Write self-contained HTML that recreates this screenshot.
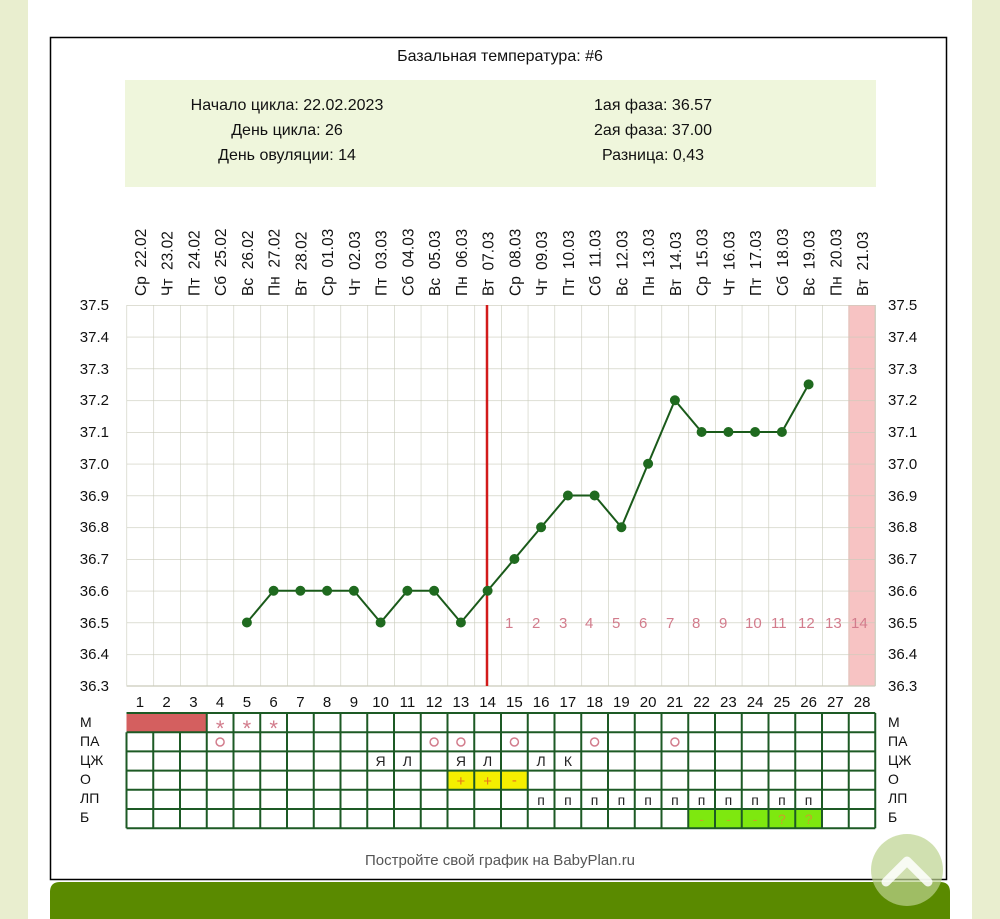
<!DOCTYPE html>
<html><head><meta charset="utf-8"><style>
html,body{margin:0;padding:0;background:#e9eecf;}
svg{display:block;font-family:"Liberation Sans",Arial,sans-serif;}
</style></head><body>
<svg width="1000" height="919" viewBox="0 0 1000 919" xmlns="http://www.w3.org/2000/svg">
<defs>
<pattern id="g" x="126.5" y="305" width="26.75" height="31.75" patternUnits="userSpaceOnUse">
<path d="M0 0 V31.75 M0 0 H26.75" stroke="#c9cbbb" stroke-width="1.2" fill="none"/>
</pattern>
</defs>
<rect x="0" y="0" width="1000" height="919" fill="#e9eecf"/>
<rect x="28" y="0" width="944" height="919" fill="#fff"/>
<rect x="50.5" y="37.5" width="896" height="842" fill="#fff" stroke="#000" stroke-width="1.5"/>
<text x="500" y="61" font-size="16" text-anchor="middle" fill="#111">Базальная температура: #6</text>
<rect x="125" y="80" width="751" height="107" fill="#eff6dc"/>
<g font-size="16" fill="#111" text-anchor="middle">
<text x="287" y="110">Начало цикла: 22.02.2023</text>
<text x="287" y="135">День цикла: 26</text>
<text x="287" y="160">День овуляции: 14</text>
<text x="653" y="110">1ая фаза: 36.57</text>
<text x="653" y="135">2ая фаза: 37.00</text>
<text x="653" y="160">Разница: 0,43</text>
</g>
<rect x="848.25" y="305" width="26.75" height="381" fill="#f7c3c3"/>
<rect x="126.5" y="305" width="749" height="381" fill="url(#g)"/>
<path d="M875.25 305 V686 M126.5 686 H875.25" stroke="#c9cbbb" stroke-width="1.2"/>
<g font-size="15.5" fill="#111">
<text transform="translate(146,296) rotate(-90)" xml:space="preserve">Ср  22.02</text>
<text transform="translate(172.7,296) rotate(-90)" xml:space="preserve">Чт  23.02</text>
<text transform="translate(199.5,296) rotate(-90)" xml:space="preserve">Пт  24.02</text>
<text transform="translate(226.2,296) rotate(-90)" xml:space="preserve">Сб  25.02</text>
<text transform="translate(253,296) rotate(-90)" xml:space="preserve">Вс  26.02</text>
<text transform="translate(279.7,296) rotate(-90)" xml:space="preserve">Пн  27.02</text>
<text transform="translate(306.5,296) rotate(-90)" xml:space="preserve">Вт  28.02</text>
<text transform="translate(333.2,296) rotate(-90)" xml:space="preserve">Ср  01.03</text>
<text transform="translate(360,296) rotate(-90)" xml:space="preserve">Чт  02.03</text>
<text transform="translate(386.7,296) rotate(-90)" xml:space="preserve">Пт  03.03</text>
<text transform="translate(413.5,296) rotate(-90)" xml:space="preserve">Сб  04.03</text>
<text transform="translate(440.2,296) rotate(-90)" xml:space="preserve">Вс  05.03</text>
<text transform="translate(467,296) rotate(-90)" xml:space="preserve">Пн  06.03</text>
<text transform="translate(493.7,296) rotate(-90)" xml:space="preserve">Вт  07.03</text>
<text transform="translate(520.5,296) rotate(-90)" xml:space="preserve">Ср  08.03</text>
<text transform="translate(547.2,296) rotate(-90)" xml:space="preserve">Чт  09.03</text>
<text transform="translate(574,296) rotate(-90)" xml:space="preserve">Пт  10.03</text>
<text transform="translate(600.7,296) rotate(-90)" xml:space="preserve">Сб  11.03</text>
<text transform="translate(627.5,296) rotate(-90)" xml:space="preserve">Вс  12.03</text>
<text transform="translate(654.2,296) rotate(-90)" xml:space="preserve">Пн  13.03</text>
<text transform="translate(681,296) rotate(-90)" xml:space="preserve">Вт  14.03</text>
<text transform="translate(707.7,296) rotate(-90)" xml:space="preserve">Ср  15.03</text>
<text transform="translate(734.5,296) rotate(-90)" xml:space="preserve">Чт  16.03</text>
<text transform="translate(761.2,296) rotate(-90)" xml:space="preserve">Пт  17.03</text>
<text transform="translate(788,296) rotate(-90)" xml:space="preserve">Сб  18.03</text>
<text transform="translate(814.7,296) rotate(-90)" xml:space="preserve">Вс  19.03</text>
<text transform="translate(841.5,296) rotate(-90)" xml:space="preserve">Пн  20.03</text>
<text transform="translate(868.2,296) rotate(-90)" xml:space="preserve">Вт  21.03</text>
</g>
<g font-size="15" fill="#111">
<g text-anchor="end">
<text x="109" y="310">37.5</text><text x="109" y="342">37.4</text><text x="109" y="374">37.3</text><text x="109" y="405">37.2</text><text x="109" y="437">37.1</text><text x="109" y="469">37.0</text><text x="109" y="501">36.9</text><text x="109" y="532">36.8</text><text x="109" y="564">36.7</text><text x="109" y="596">36.6</text><text x="109" y="628">36.5</text><text x="109" y="659">36.4</text><text x="109" y="691">36.3</text>
</g>
<g>
<text x="888" y="310">37.5</text><text x="888" y="342">37.4</text><text x="888" y="374">37.3</text><text x="888" y="405">37.2</text><text x="888" y="437">37.1</text><text x="888" y="469">37.0</text><text x="888" y="501">36.9</text><text x="888" y="532">36.8</text><text x="888" y="564">36.7</text><text x="888" y="596">36.6</text><text x="888" y="628">36.5</text><text x="888" y="659">36.4</text><text x="888" y="691">36.3</text>
</g>
</g>
<g font-size="15" fill="#d27c8c">
<text x="505" y="628">1</text><text x="532" y="628">2</text><text x="559" y="628">3</text><text x="585" y="628">4</text><text x="612" y="628">5</text><text x="639" y="628">6</text><text x="666" y="628">7</text><text x="692" y="628">8</text><text x="719" y="628">9</text><text x="745" y="628">10</text><text x="771" y="628">11</text><text x="798" y="628">12</text><text x="825" y="628">13</text><text x="851" y="628">14</text>
</g>
<line x1="487" y1="305" x2="487" y2="686" stroke="#d21a1a" stroke-width="2.5"/>
<polyline fill="none" stroke="#1a5a1a" stroke-width="2" points="246.9,622.5 273.6,590.75 300.4,590.75 327.1,590.75 353.9,590.75 380.6,622.5 407.4,590.75 434.1,590.75 460.9,622.5 487.6,590.75 514.4,559 541.1,527.25 567.9,495.5 594.6,495.5 621.4,527.25 648.1,463.75 674.9,400.25 701.6,432 728.4,432 755.1,432 781.9,432 808.6,384.4"/>
<g fill="#1f6a1f">
<circle cx="246.9" cy="622.5" r="5"/><circle cx="273.6" cy="590.75" r="5"/><circle cx="300.4" cy="590.75" r="5"/><circle cx="327.1" cy="590.75" r="5"/><circle cx="353.9" cy="590.75" r="5"/><circle cx="380.6" cy="622.5" r="5"/><circle cx="407.4" cy="590.75" r="5"/><circle cx="434.1" cy="590.75" r="5"/><circle cx="460.9" cy="622.5" r="5"/><circle cx="487.6" cy="590.75" r="5"/><circle cx="514.4" cy="559" r="5"/><circle cx="541.1" cy="527.25" r="5"/><circle cx="567.9" cy="495.5" r="5"/><circle cx="594.6" cy="495.5" r="5"/><circle cx="621.4" cy="527.25" r="5"/><circle cx="648.1" cy="463.75" r="5"/><circle cx="674.9" cy="400.25" r="5"/><circle cx="701.6" cy="432" r="5"/><circle cx="728.4" cy="432" r="5"/><circle cx="755.1" cy="432" r="5"/><circle cx="781.9" cy="432" r="5"/><circle cx="808.6" cy="384.4" r="5"/>
</g>
<g font-size="15" fill="#111" text-anchor="middle">
<text x="139.9" y="707">1</text><text x="166.6" y="707">2</text><text x="193.4" y="707">3</text><text x="220.1" y="707">4</text><text x="246.9" y="707">5</text><text x="273.6" y="707">6</text><text x="300.4" y="707">7</text><text x="327.1" y="707">8</text><text x="353.9" y="707">9</text><text x="380.6" y="707">10</text><text x="407.4" y="707">11</text><text x="434.1" y="707">12</text><text x="460.9" y="707">13</text><text x="487.6" y="707">14</text><text x="514.4" y="707">15</text><text x="541.1" y="707">16</text><text x="567.9" y="707">17</text><text x="594.6" y="707">18</text><text x="621.4" y="707">19</text><text x="648.1" y="707">20</text><text x="674.9" y="707">21</text><text x="701.6" y="707">22</text><text x="728.4" y="707">23</text><text x="755.1" y="707">24</text><text x="781.9" y="707">25</text><text x="808.6" y="707">26</text><text x="835.4" y="707">27</text><text x="862.1" y="707">28</text>
</g>
<rect x="126.5" y="713" width="80.25" height="19.2" fill="#d45f5f"/>
<rect x="447.5" y="770.6" width="80.25" height="19.2" fill="#f4ef00"/>
<rect x="688.25" y="809" width="133.75" height="19.2" fill="#7ee80f"/>
<g stroke="#1d5a25" stroke-width="2" fill="none">
<path d="M126.5 713H875.25 M126.5 732.2H875.25 M126.5 751.4H875.25 M126.5 770.6H875.25 M126.5 789.8H875.25 M126.5 809H875.25 M126.5 828.2H875.25"/>
<path d="M126.5 732.2V828.2 M153.25 732.2V828.2 M180 732.2V828.2 M206.75 713V828.2 M233.5 713V828.2 M260.25 713V828.2 M287 713V828.2 M313.75 713V828.2 M340.5 713V828.2 M367.25 713V828.2 M394 713V828.2 M420.75 713V828.2 M447.5 713V828.2 M474.25 713V828.2 M501 713V828.2 M527.75 713V828.2 M554.5 713V828.2 M581.25 713V828.2 M608 713V828.2 M634.75 713V828.2 M661.5 713V828.2 M688.25 713V828.2 M715 713V828.2 M741.75 713V828.2 M768.5 713V828.2 M795.25 713V828.2 M822 713V828.2 M848.75 713V828.2 M875.25 713V828.2"/>
</g>
<g font-size="14" fill="#111">
<text x="80" y="727">М</text><text x="80" y="746">ПА</text><text x="80" y="765">ЦЖ</text><text x="80" y="784">О</text><text x="80" y="803">ЛП</text><text x="80" y="822">Б</text>
<text x="888" y="727">М</text><text x="888" y="746">ПА</text><text x="888" y="765">ЦЖ</text><text x="888" y="784">О</text><text x="888" y="803">ЛП</text><text x="888" y="822">Б</text>
</g>
<g font-size="22" fill="#d27c8c" text-anchor="middle">
<text x="220.1" y="736">*</text><text x="246.9" y="736">*</text><text x="273.6" y="736">*</text>
</g>
<g fill="none" stroke="#d27c8c" stroke-width="1.5">
<circle cx="220.1" cy="742" r="4"/><circle cx="434.1" cy="742" r="4"/><circle cx="460.9" cy="742" r="4"/><circle cx="514.4" cy="742" r="4"/><circle cx="594.6" cy="742" r="4"/><circle cx="674.9" cy="742" r="4"/>
</g>
<g font-size="14" fill="#222" text-anchor="middle">
<text x="380.6" y="766">Я</text><text x="407.4" y="766">Л</text><text x="460.9" y="766">Я</text><text x="487.6" y="766">Л</text><text x="541.1" y="766">Л</text><text x="567.9" y="766">К</text>
<text x="541.1" y="805">п</text><text x="567.9" y="805">п</text><text x="594.6" y="805">п</text><text x="621.4" y="805">п</text><text x="648.1" y="805">п</text><text x="674.9" y="805">п</text><text x="701.6" y="805">п</text><text x="728.4" y="805">п</text><text x="755.1" y="805">п</text><text x="781.9" y="805">п</text><text x="808.6" y="805">п</text>
</g>
<g font-size="15" fill="#e8761a" text-anchor="middle">
<text x="460.9" y="786">+</text><text x="487.6" y="786">+</text><text x="514.4" y="785">-</text>
</g>
<g font-size="14" fill="#c9a12a" text-anchor="middle">
<text x="701.6" y="824">-</text><text x="728.4" y="824">-</text><text x="755.1" y="824">-</text><text x="781.9" y="824">?</text><text x="808.6" y="824">?</text>
</g>
<text x="500" y="865" font-size="15" fill="#555" text-anchor="middle">Постройте свой график на BabyPlan.ru</text>
<path d="M50 919 V892 Q50 882 60 882 H940 Q950 882 950 892 V919 Z" fill="#5a8a00"/>
<circle cx="907" cy="870" r="36" fill="#bcd38f" opacity="0.7"/>
<path d="M886 882 L907 861 L928 882" fill="none" stroke="#fff" stroke-width="9" stroke-linecap="round" stroke-linejoin="round" opacity="0.85"/>
</svg>
</body></html>
